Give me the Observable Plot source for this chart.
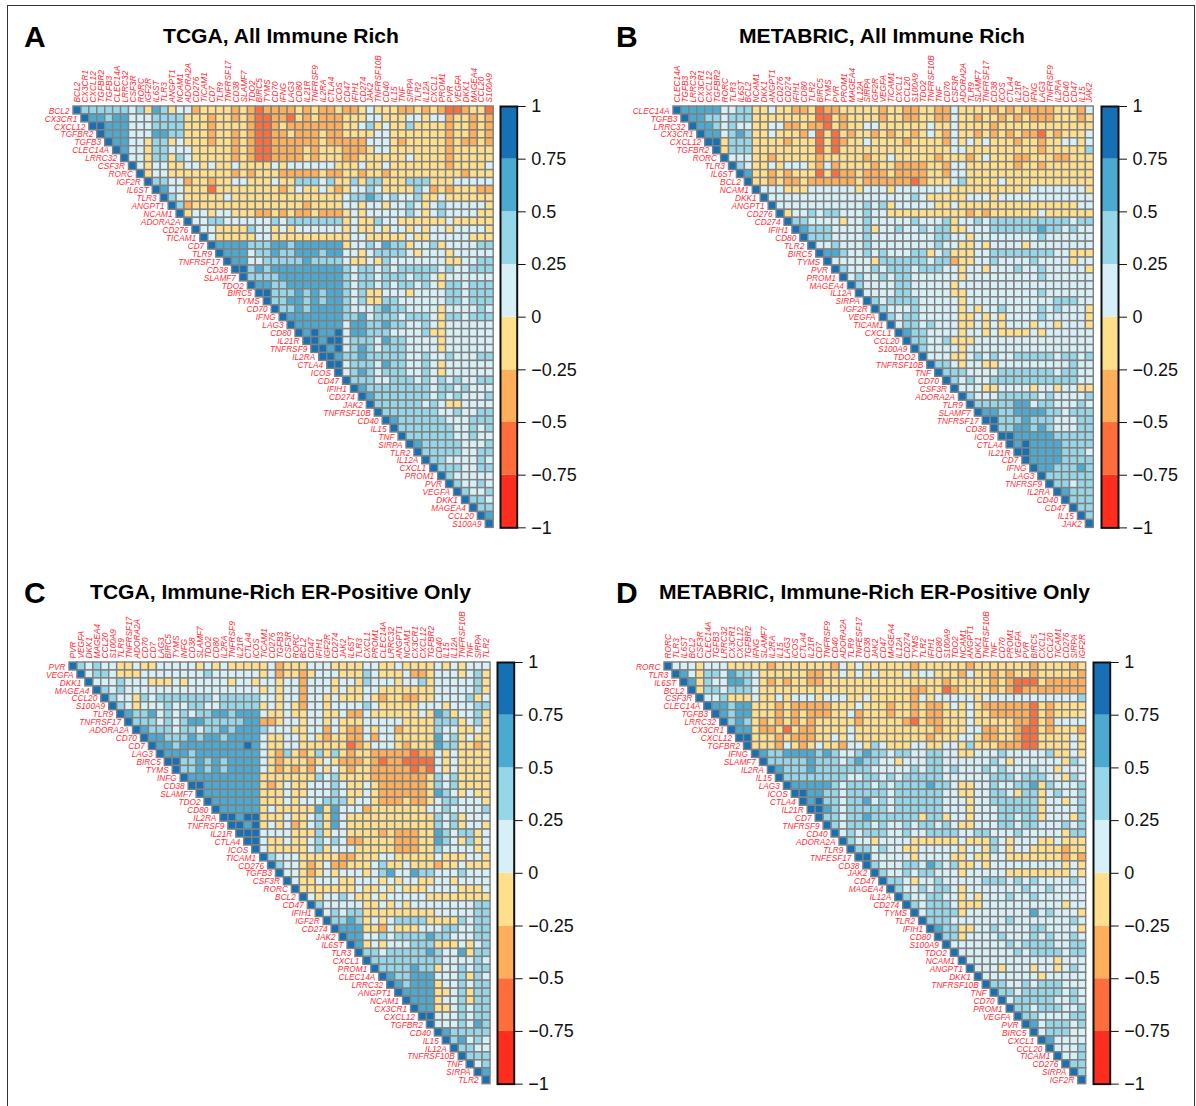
<!DOCTYPE html>
<html><head><meta charset="utf-8">
<script src="https://cdn.jsdelivr.net/npm/d3@7"></script>
<script src="https://cdn.jsdelivr.net/npm/@observablehq/plot@0.6"></script>
<style>
html,body{margin:0;padding:0;background:#fff}
#page{position:relative;width:1196px;height:1106px;overflow:hidden;font-family:"Liberation Sans",Arial,sans-serif;color:#000}
#border{position:absolute;left:7px;top:5px;width:1186px;height:1110px;border:1.5px solid #333}
.t{position:absolute;font-weight:bold;white-space:nowrap;line-height:1}
svg{position:absolute;overflow:visible}
</style></head><body><div id="page"><div id="border"></div></div>
<script>
const genesA=["BCL2","CX3CR1","CXCL12","TGFBR2","TGFB3","CLEC14A","LRRC32","CSF3R","RORC","IGF2R","IL6ST","TLR3","ANGPT1","NCAM1","ADORA2A","CD276","TICAM1","CD7","TLR9","TNFRSF17","CD38","SLAMF7","TDO2","BIRC5","TYMS","CD70","IFNG","LAG3","CD80","IL21R","TNFRSF9","IL2RA","CTLA4","ICOS","CD47","IFIH1","CD274","JAK2","TNFRSF10B","CD40","IL15","TNF","SIRPA","TLR2","IL12A","CXCL1","PROM1","PVR","VEGFA","DKK1","MAGEA4","CCL20","S100A9"];
const genesB=["CLEC14A","TGFB3","LRRC32","CX3CR1","CXCL12","TGFBR2","RORC","TLR3","IL6ST","BCL2","NCAM1","DKK1","ANGPT1","CD276","CD274","IFIH1","CD80","TLR2","BIRC5","TYMS","PVR","PROM1","MAGEA4","IL12A","SIRPA","IGF2R","VEGFA","TICAM1","CXCL1","CCL20","S100A9","TDO2","TNFRSF10B","TNF","CD70","CSF3R","ADORA2A","TLR9","SLAMF7","TNFRSF17","CD38","ICOS","CTLA4","IL21R","CD7","IFNG","LAG3","TNFRSF9","IL2RA","CD40","CD47","IL15","JAK2"];
const genesC=["PVR","VEGFA","DKK1","MAGEA4","CCL20","S100A9","TLR9","TNFRSF17","ADORA2A","CD70","CD7","LAG3","BIRC5","TYMS","INFG","CD38","SLAMF7","TDO2","CD80","IL2RA","TNFRSF9","IL21R","CTLA4","ICOS","TICAM1","CD276","TGFB3","CSF3R","RORC","BCL2","CD47","IFIH1","IGF2R","CD274","JAK2","IL6ST","TLR3","CXCL1","PROM1","CLEC14A","LRRC32","ANGPT1","NCAM1","CX3CR1","CXCL12","TGFBR2","CD40","IL15","IL12A","TNFRSF10B","TNF","SIRPA","TLR2"];
const genesD=["RORC","TLR3","IL6ST","BCL2","CSF3R","CLEC14A","TGFB3","LRRC32","CX3CR1","CXCL12","TGFBR2","IFNG","SLAMF7","IL2RA","IL15","LAG3","ICOS","CTLA4","IL21R","CD7","TNFRSF9","CD40","ADORA2A","TLR9","TNFESF17","CD38","JAK2","CD47","MAGEA4","IL12A","CD274","TYMS","TLR2","IFIH1","CD80","S100A9","TDO2","NCAM1","ANGPT1","DKK1","TNFRSF10B","TNF","CD70","PROM1","VEGFA","PVR","BIRC5","CXCL1","CCL20","TICAM1","CD276","SIRPA","IGF2R"];
// correlation bin read per cell, row by row from the diagonal: 0 = -1..-0.75 ... 7 = 0.75..1
const rowsA=[
"7555555453 6534423333 2321222232 3223223433 3223232112 331",
"766566444 5555333233 2321122132 3222333443 3344344233 232",
"77666444 5555333233 3321123222 2222334534 3353333233 232",
"7666444 6655333233 2321122322 2322333344 3333333233 232",
"766443 5534333233 2321122222 2322222444 3233333232 232",
"76443 5544433333 2321122223 2333222344 3333333233 333",
"7443 5535433333 2321122223 2333223333 3343333233 333",
"743 4433443433 4333343444 4443334334 3333333233 334",
"73 4433333333 2323332222 2322332332 3333333332 333",
"7 5544233233 4433343355 5453353553 3355533344 444",
"7644333133 3333332343 3432344543 3335423233 322",
"754333334 3333333333 3333455654 5445334333 333",
"75233333 3333333332 3333443443 4454345444 443",
"7344344 3332232322 3222343444 4454345444 433",
"744554 4444454555 5555343354 4333333433 333",
"74433 3354434344 4444343343 4434344344 443",
"7433 3334433333 3333344333 3343344444 333",
"766 6655566566 6666344546 5534453444 455",
"76 6645565566 6566443455 5543444344 444",
"7 6644555556 5555433435 4444444334 455",
"7756566666 6666545545 4555554544 555",
"755556666 6666545545 5545543444 444",
"76655666 6666545545 4554543554 555",
"7755565 6566545334 4434444554 555",
"755665 6566545335 5444444554 555",
"75565 6666544456 5544443444 454",
"7666 6666556455 5455543554 555",
"766 6666466556 5544543444 444",
"76 7667466555 4444533444 444",
"7 7677455546 5544443444 444",
"7767456545 5544443444 444",
"776556555 5544544544 455",
"77455546 5544543444 444",
"7456545 5544543444 444",
"755544 5554545454 455",
"76555 5555545545 444",
"7655 5555545454 445",
"755 5555454334 444",
"75 5555554454 455",
"7 6555555444 555",
"7555555544 545",
"755555544 544",
"76555554 445",
"7555554 455",
"755444 454",
"75554 455",
"7544 444",
"754 454",
"75 445",
"7 554",
"755","76","7"];
const rowsB=[
"7666664455 3343322312 2333332332 2332243333 2323222233 324",
"766554555 3333333311 3233332332 2332243323 3232322233 323",
"76654544 3344223221 3233443333 3343343333 2333333333 333",
"7664565 3343332413 1323323233 2343243323 2323221323 334",
"773555 3333233313 1233433332 3333243434 3332332334 434",
"73555 3333333313 1333333333 3333344333 3333332333 335",
"7444 3323333323 3333233433 3332333234 3332233322 333",
"754 3343444324 2333323322 2233244333 3332332333 333",
"76 3323233313 1223222322 2233244333 3333333333 333",
"7 3323223222 2223222222 1233345333 3433333333 333",
"7444333444 4443444344 4444433333 3333344444 443",
"744444444 4444444444 5433333444 3444444444 444",
"74444444 4444545344 4443343333 3333333333 344",
"7344545 5444544333 3333333232 3333334333 333",
"755444 4344544444 5444534454 5555555555 455",
"76555 4444534454 4545533444 5555556554 544",
"7555 4444544444 4445544344 4444445444 444",
"744 5444544444 4445443343 4444344444 444",
"76 6544545444 5534533344 5555555544 333",
"7 4444435555 5545523344 5444454444 344",
"7544454555 4555443443 4445445444 443",
"745445455 4444443444 4444445444 444",
"75444455 4444434444 4444444444 444",
"7444455 4444433444 4444445444 444",
"754555 5444443444 4444444455 544",
"75444 5444443434 4544445454 443",
"7545 5444443343 4344445444 443",
"745 5454443343 4344434434 443",
"76 5544443443 4333343444 444",
"7 5544533344 4444444444 444",
"7544443444 4444444444 444",
"744433454 5445555545 545",
"75543443 3444444444 544",
"7555444 4555555545 544",
"754544 5555555555 544",
"74443 3444434434 433",
"7544 4555554544 445",
"755 5556645544 454",
"76 6556666554 555",
"7 7555655544 455",
"7556656544 455",
"776666655 555",
"76766665 555",
"7766665 554",
"766665 555",
"76655 565",
"7555 555",
"755 455",
"76 555",
"7 555",
"755","75","7"];
const rowsC=[
"7545443343 3444443434 3333342333 4443333443 3433334343 444",
"745543334 4444444544 4444342332 3444333543 3342234443 453",
"74445444 3334344444 3443443442 4443443544 4344534444 453",
"7545444 4444444444 4444343442 4443433443 3333334444 453",
"754435 4555555545 5555443442 4434333432 3322334444 534",
"75434 4454455445 5555343432 4434444543 3333444344 455",
"7655 6454545566 5666433433 4433422433 3333436534 453",
"755 5454566555 5566223443 4434333444 4433335553 453",
"76 5554554556 5666544433 4424322434 4233335443 343",
"7 6655565665 6666433443 4323322424 4333336453 433",
"7665666666 6676433443 3333312344 4323336553 323",
"766656666 6666432532 3535323322 2221224343 333",
"77556565 6666432333 2343222321 2211114343 333",
"7556565 6666432323 2434323322 2221214343 333",
"766666 6666333333 3545333322 2222235453 333",
"77666 6666323433 4445433432 2222235453 333",
"7666 6666333433 4445433432 2222236543 433",
"766 6666333434 4455534432 2232234554 443",
"76 6666343333 3636444233 3333344544 445",
"7 7677333433 4536433333 3333335453 444",
"7767343423 4536433333 3333335453 443",
"777444433 3534433332 3222336545 534",
"77433433 4545422333 3222336543 534",
"7433333 4534443333 3222335444 434",
"754443 3333223334 4333334333 443",
"75443 2342233345 3343332334 333",
"7443 2343444345 6446554445 444",
"743 3444334443 4344334434 444",
"73 3333334334 3433344443 334",
"7 4344543343 4444433333 333",
"7544444334 3434444444 455",
"745455333 3333334444 455",
"75565343 4555533335 455",
"7666332 4333444554 455",
"766445 4555565544 455",
"76343 4445553334 345",
"7554 5555565446 355",
"755 5555555444 454",
"75 5556553445 455",
"7 6556664445 354",
"7656663445 455",
"766663345 355",
"76663445 355",
"7663345 455",
"774445 455",
"74445 465",
"7655 555",
"756 454",
"75 544",
"7 555",
"745","76","7"];
const rowsD=[
"7444344433 3332333333 3243433333 3233333323 3333332333 323",
"764355465 5433333322 3343434333 4344333243 3232332333 332",
"76354466 5432323322 3333333333 3333323333 3232111322 222",
"7355455 5433333333 3333333333 3223312333 3232122222 222",
"744533 3433434443 4443343333 3243444443 4444444444 445",
"76656 6333232222 2333433323 3232234343 2222221323 333",
"7656 6333232322 2334233323 3232233343 3222221323 333",
"756 5323232323 3333233333 2132233343 3333221324 444",
"76 6322313223 3334333333 3333233344 2233211323 332",
"7 7333232223 3434333333 3332333443 2233211333 343",
"7333243234 3324435433 3443344353 3322211333 343",
"765566665 6544565545 5445544334 4454444453 343",
"75555565 5545655443 4445544444 4543444444 354",
"7655565 5555554444 4545545444 5454445443 444",
"755555 5554455454 5555544444 4555455544 354",
"76666 6545554545 5556554334 4544556354 445",
"7766 5545555545 5555544334 4554355345 445",
"767 5545564545 5555544434 4555555344 345",
"77 6545555545 5555544434 4455555344 445",
"7 5545565555 5535534434 4455455344 435",
"7545554544 5455454334 4455455444 545",
"745455544 5445555445 5444544444 355",
"75443444 4333333433 3543444334 333",
"7554544 3344444344 3543443333 233",
"774444 4344443343 3443333333 232",
"75444 5546545334 3444444444 343",
"7544 5455444344 4443333333 343",
"755 4344544444 5554545444 454",
"75 4454554344 4444454454 444",
"7 5445544343 4445445444 444",
"7545554333 4444444444 344",
"745555344 4444446454 443",
"75554444 4445444444 454",
"7655334 4544445544 443",
"755344 4454445454 454",
"74444 4445455554 455",
"7444 4444545555 455",
"744 4444444443 444",
"74 4434443443 454",
"7 4444444344 444",
"7554454555 444",
"755455555 454",
"74555554 454",
"7554555 445",
"755444 455",
"76455 545",
"7455 544",
"764 444",
"74 445",
"7 445",
"755","75","7"];
const binValues=[-0.875,-0.625,-0.375,-0.125,0.125,0.375,0.625,0.875];
const thresholds=[-0.75,-0.5,-0.25,0,0.25,0.5,0.75];
const palette=["#ff2d1e","#ff6d3a","#ffae5a","#ffdf8b","#d7f0f7","#95d7e9","#4aaad2","#1670b6"];
const legendTicks=[1,0.75,0.5,0.25,0,-0.25,-0.5,-0.75,-1];
const legendBins=d3.range(8).map(i=>({lo:-1+i*0.25,hi:-0.75+i*0.25}));
const colorScale={type:"threshold",domain:thresholds,range:palette};
const red="#ff2f3a";

const panels=[
 {letter:"A",lx:24,ty:25,ly:21.6,title:"TCGA, All Immune Rich",tx:163,genes:genesA,rows:rowsA,x0:72.5,x1:492.7,y0:106.3,y1:527.7,bx:500,bw:16.7},
 {letter:"B",lx:616,ty:25,ly:21.6,title:"METABRIC, All Immune Rich",tx:739,genes:genesB,rows:rowsB,x0:672.7,x1:1093,y0:106.3,y1:527.7,bx:1101,bw:17},
 {letter:"C",lx:24,ty:581,ly:577.6,title:"TCGA, Immune-Rich ER-Positive Only",tx:90,genes:genesC,rows:rowsC,x0:69,x1:490,y0:662.3,y1:1084,bx:497.3,bw:16.7},
 {letter:"D",lx:616,ty:581,ly:577.6,title:"METABRIC, Immune-Rich ER-Positive Only",tx:659,genes:genesD,rows:rowsD,x0:664,x1:1085.7,y0:662.3,y1:1084,bx:1092.7,bw:16.7}
];
const page=document.getElementById("page");
function addText(cls,text,left,top,size){const d=document.createElement("div");d.className=cls;d.textContent=text;d.style.left=left+"px";d.style.top=top+"px";d.style.fontSize=size+"px";page.appendChild(d);}
for(const p of panels){
  addText("t",p.letter,p.lx,p.ly,30);
  addText("t",p.title,p.tx,p.ty,21.1);
  const cells=p.rows.flatMap((row,i)=>[...row.replace(/ /g,"")].map((ch,k)=>({col:p.genes[i+k],row:p.genes[i],v:binValues[+ch]})));
  const m=70;
  const w=p.x1-p.x0,h=p.y1-p.y0;
  const svg=Plot.plot({
    width:w+m,height:h+m+2,marginLeft:m,marginTop:m,marginRight:0,marginBottom:2,
    style:{fontFamily:"Liberation Sans, Arial, sans-serif",background:"transparent"},
    x:{domain:p.genes,padding:0,round:false,axis:null},
    y:{domain:p.genes,padding:0,round:false,axis:null},
    color:colorScale,
    marks:[
      Plot.axisX({anchor:"top",tickRotate:-90,tickSize:0,tickPadding:4,label:null,fontSize:8.3,fontStyle:"italic",fill:red}),
      Plot.cell(cells,{x:"col",y:"row",fill:"v",stroke:"#808080",strokeWidth:1.45}),
      Plot.text(p.genes,{x:d=>d,y:d=>d,text:d=>d,textAnchor:"end",dx:-8,dy:0.5,fontSize:8.3,fontStyle:"italic",fill:red})
    ]
  });
  svg.style.left=(p.x0-m)+"px";svg.style.top=(p.y0-m)+"px";
  page.appendChild(svg);
  const lm=60;
  const bar=Plot.plot({
    width:p.bw+lm+4,height:h+12,marginLeft:2,marginRight:lm+2,marginTop:6,marginBottom:6,
    style:{fontFamily:"Liberation Sans, Arial, sans-serif",background:"transparent",color:"#111"},
    x:{domain:[0,1],axis:null},
    y:{domain:[-1,1]},
    color:colorScale,
    marks:[
      Plot.rect(legendBins,{x1:()=>0,x2:()=>1,y1:"lo",y2:"hi",fill:d=>(d.lo+d.hi)/2}),
      Plot.frame({stroke:"#111",strokeWidth:2}),
      Plot.axisY(legendTicks,{anchor:"right",tickSize:8,tickPadding:6,label:null,fontSize:18,stroke:"#111",fill:"#111",tickFormat:d=>String(d).replace("-","\u2212")})
    ]
  });
  bar.style.left=(p.bx-2)+"px";bar.style.top=(p.y0-6)+"px";
  page.appendChild(bar);
}
</script></body></html>
